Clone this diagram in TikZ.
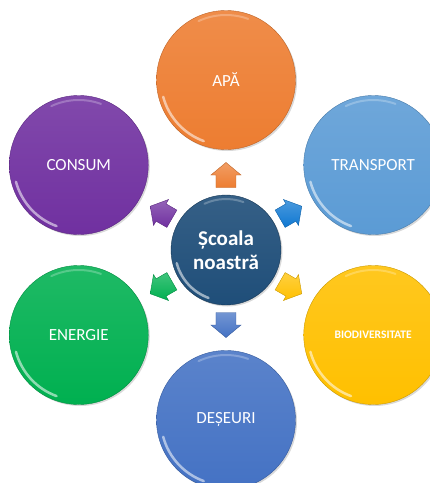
\documentclass[tikz,border=0pt]{standalone}
\usepackage{fontspec}
\setmainfont{Carlito}
\usetikzlibrary{shadows}
\definecolor{apacol}{HTML}{ED7D31}
\definecolor{transportcol}{HTML}{5B9BD5}
\definecolor{biodivcol}{HTML}{FFC000}
\definecolor{deseuricol}{HTML}{4472C4}
\definecolor{energiecol}{HTML}{00B050}
\definecolor{consumcol}{HTML}{7030A0}
\definecolor{hubcol}{HTML}{1F4E79}
\definecolor{arrbluecol}{HTML}{0F78D2}
\tikzset{gloss/.style={path picture={
  \draw[white, opacity=.55, line width=2.5pt, line cap=round]
    ([shift={(195:#1)}]path picture bounding box.center) arc (195:250:#1);
  \draw[white, opacity=.25, line width=2pt, line cap=round]
    ([shift={(70:#1)}]path picture bounding box.center) arc (70:115:#1);
}}}
\tikzset{topic/.style={circle, minimum size=139pt, inner sep=0pt, text=white,
  font=\fontsize{17}{20}\selectfont, top color=#1!88!white, bottom color=#1,
  draw=#1!80!black, gloss=65,
  drop shadow={opacity=.3, shadow xshift=1.5pt, shadow yshift=-1.5pt}}}
\tikzset{hub/.style={circle, minimum size=110pt, inner sep=0pt, text=white,
  align=center, font=\fontsize{21}{24}\selectfont\bfseries,
  top color=hubcol!90!white, bottom color=hubcol, draw=hubcol!70!black, gloss=51,
  drop shadow={opacity=.3, shadow xshift=1.5pt, shadow yshift=-1.5pt}}}
\tikzset{pointer/.style={top color=#1!75!white, bottom color=#1, draw=#1!80!black}}

\begin{document}
\begin{tikzpicture}[x=1pt, y=1pt]
  \useasboundingbox (-226,-233) rectangle (204,250);
  % themes round the school
  \foreach \name/\ang/\col/\txt in {
    apa/90/apacol/APĂ,
    transport/30/transportcol/TRANSPORT,
    biodiv/-30/biodivcol/{\fontsize{11.5}{14}\selectfont\bfseries BIODIVERSITATE},
    deseuri/-90/deseuricol/DEȘEURI,
    energie/210/energiecol/ENERGIE,
    consum/150/consumcol/CONSUM%
  } {
    \node[topic=\col] (\name) at (\ang:170) {\txt};
  }
  % small block arrows, pointing outwards
  \foreach \name/\ang/\col in {
    apa/90/apacol, transport/30/arrbluecol, biodiv/-30/biodivcol,
    deseuri/-90/deseuricol, energie/210/energiecol, consum/150/consumcol%
  } {
    \coordinate (arr\name) at (\ang:75);
    \draw[pointer=\col, shift={(arr\name)}, rotate=\ang]
      (-12.5,-10) -- (0,-10) -- (0,-15) -- (12.5,0) -- (0,15) -- (0,10)
      -- (-12.5,10) -- cycle;
  }
  \node[hub] (scoala) at (0,0) {Școala\\noastră};
\end{tikzpicture}
\end{document}
